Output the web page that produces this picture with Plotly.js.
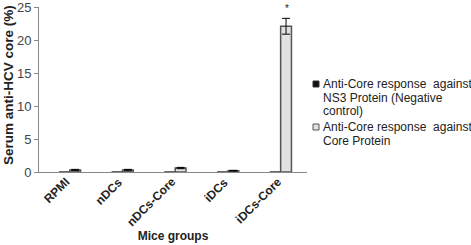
<!DOCTYPE html>
<html><head><meta charset="utf-8">
<script src="https://cdn.plot.ly/plotly-3.0.1.min.js"></script>
<style>html,body{margin:0;padding:0;background:#fff;}#chart{width:471px;height:245px;}</style>
</head><body><div id="chart"></div>
<script>
var groups = ['RPMI', 'nDCs', 'nDCs-Core', 'iDCs', 'iDCs-Core'];
var ns3Values = [0, 0, 0, 0, 0];
var coreValues = [0.3, 0.3, 0.6, 0.2, 22.1];
var coreErrors = [0.1, 0.1, 0.1, 0.05, 1.2];
var seriesLines = [['Anti-Core response\u00a0 against', 'NS3 Protein (Negative', 'control)'],
                   ['Anti-Core response\u00a0 against', 'Core Protein']];
var seriesFill = ['#111111', '#e2e2e2'];
var seriesLine = ['#333333', '#555555'];
var yTicks = [0, 5, 10, 15, 20, 25];

var font = 'Liberation Sans, Arial, sans-serif';
var W = 471, H = 245;
var M = {l:39, r:164, t:7, b:73};
var pw = W - M.l - M.r, ph = H - M.t - M.b;
function px2x(p){ return (p - M.l) / pw; }
function px2y(p){ return (H - M.b - p) / ph; }

var traces = [
  {type:'bar', x:groups, y:ns3Values, name:seriesLines[0].join(' '), showlegend:false,
   marker:{color:seriesFill[0], line:{color:seriesLine[0], width:1}}},
  {type:'bar', x:groups, y:coreValues, name:seriesLines[1].join(' '), showlegend:false,
   marker:{color:seriesFill[1], line:{color:seriesLine[1], width:1.5}},
   error_y:{type:'data', array:coreErrors, visible:true, color:'#000', thickness:1, width:4}}
];

var annotations = [];
var shapes = [];
// rotated category labels
groups.forEach(function(g){
  annotations.push({x:g, y:0, xref:'x', yref:'y', text:'<b>' + g + '</b>', textangle:-45,
    showarrow:false, xanchor:'right', yanchor:'top', xshift:6, yshift:0,
    font:{family:font, size:12, color:'#222'}});
});
// custom legend (text lines + swatches)
var legTop = [84, 127];
var lineH = 13.5;
seriesLines.forEach(function(lines, i){
  lines.forEach(function(t, j){
    annotations.push({xref:'paper', yref:'paper', x:px2x(321), y:px2y(legTop[i] + j*lineH),
      xanchor:'left', yanchor:'middle', text:t, showarrow:false,
      font:{family:font, size:12, color:'#222'}});
  });
  shapes.push({type:'rect', xref:'paper', yref:'paper',
    x0:px2x(313), x1:px2x(319), y0:px2y(legTop[i]-3), y1:px2y(legTop[i]+3),
    fillcolor:seriesFill[i], line:{color:seriesLine[i], width:1}});
});
annotations.push({x:'iDCs-Core', y:coreValues[4]+coreErrors[4]+0.3, xref:'x', yref:'y', text:'*',
  showarrow:false, xshift:6, yanchor:'bottom', font:{family:font, size:10, color:'#222'}});
annotations.push({xref:'paper', yref:'paper', x:px2x(8), y:px2y(85), xanchor:'center', yanchor:'middle',
  text:'<b>Serum anti-HCV core (%)</b>', textangle:-90, showarrow:false,
  font:{family:font, size:13.5, color:'#222'}});

var layout = {
  width:W, height:H,
  margin:M,
  paper_bgcolor:'#fff', plot_bgcolor:'#fff',
  barmode:'group', bargap:0.59, bargroupgap:0,
  font:{family:font, size:12, color:'#222'},
  showlegend:false,
  xaxis:{type:'category', showline:true, linecolor:'#888', linewidth:1, showticklabels:false,
         ticks:'', automargin:false,
         title:{text:'<b>Mice groups</b>', font:{family:font, size:12, color:'#222'}, standoff:59}},
  yaxis:{range:[0,25.02], tickvals:yTicks, showline:true, linecolor:'#888', linewidth:1,
         ticks:'outside', ticklen:4, tickcolor:'#888', showgrid:false, zeroline:false, automargin:false,
         ticklabeloverflow:'allow',
         tickfont:{family:font, size:13, color:'#444'}},
  annotations:annotations,
  shapes:shapes
};
Plotly.newPlot('chart', traces, layout, {displayModeBar:false, staticPlot:true});
</script></body></html>
